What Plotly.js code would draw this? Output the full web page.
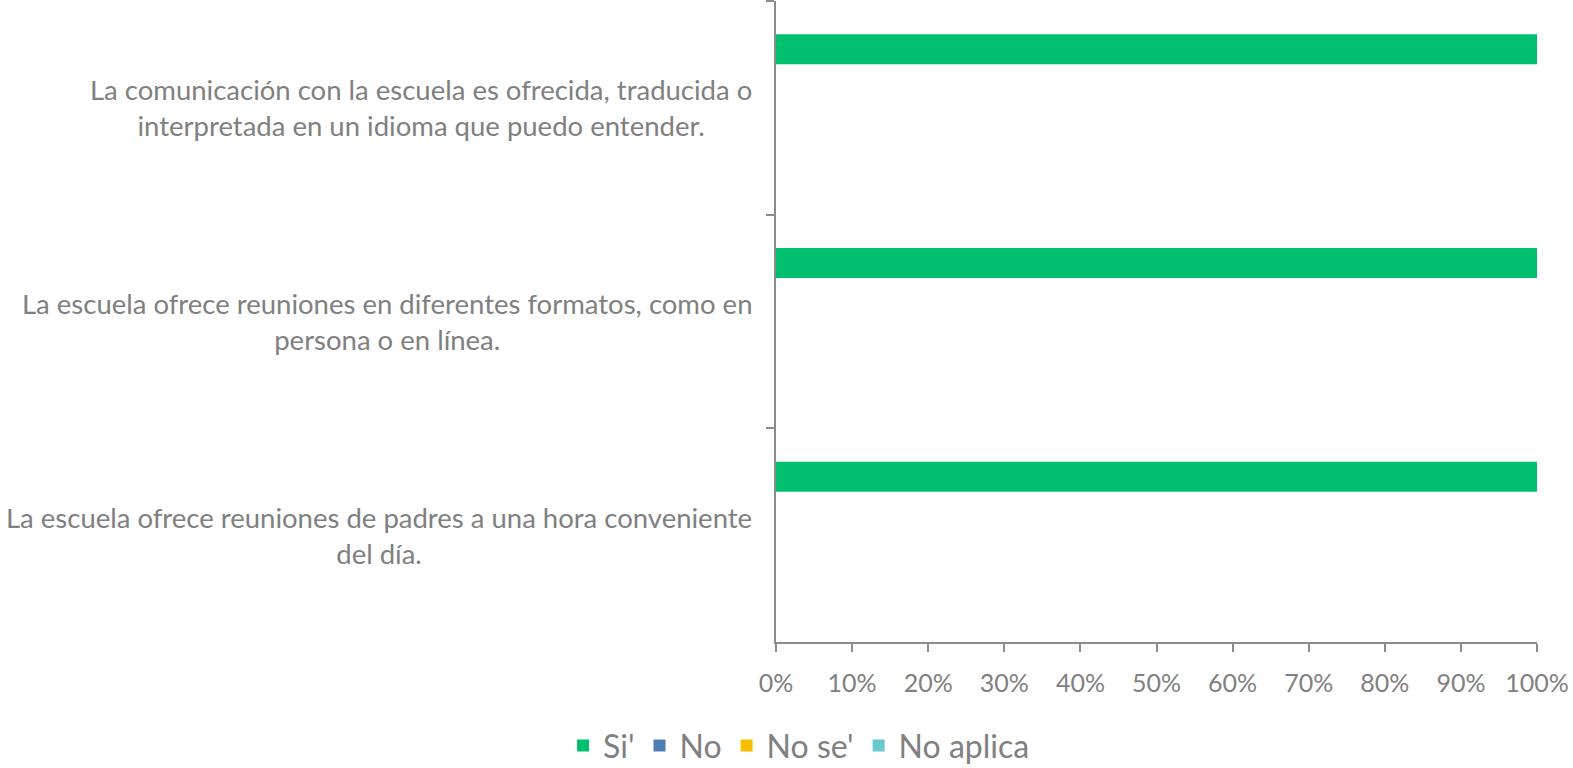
<!DOCTYPE html>
<html>
<head>
<meta charset="utf-8">
<script src="https://cdn.plot.ly/plotly-3.0.1.min.js"></script>
<style>html,body{margin:0;padding:0;background:#fff;}#chart{width:1573px;height:768px;}</style>
</head>
<body>
<div id="chart"></div>
<script>
const categories = [
  "La comunicación con la escuela es ofrecida, traducida o<br>interpretada en un idioma que puedo entender.",
  "La escuela ofrece reuniones en diferentes formatos, como en<br>persona o en línea.",
  "La escuela ofrece reuniones de padres a una hora conveniente<br>del día."
];
const seriesNames = ["Si'", "No", "No se'", "No aplica"];
const siValues = [1, 1, 1];
const noValues = [0, 0, 0];
const noseValues = [0, 0, 0];
const noaplicaValues = [0, 0, 0];
const xTickVals = [0, 0.1, 0.2, 0.3, 0.4, 0.5, 0.6, 0.7, 0.8, 0.9, 1];

const colors = ["#00BF6F", "#507CB6", "#F9BE00", "#6BC8CD"];
const allValues = [siValues, noValues, noseValues, noaplicaValues];
const barWidth = 0.1404;
const offsets = [-0.344, -0.2036, -0.0632, 0.0772];

const textColor = "#808080";
const fontFam = "Lato, 'Open Sans', sans-serif";

const traces = allValues.map((vals, i) => ({
  type: "bar",
  orientation: "h",
  name: seriesNames[i],
  x: vals,
  y: categories,
  width: barWidth,
  offset: offsets[i],
  marker: {color: colors[i]},
  hoverinfo: "x+name"
}));

const annotations = categories.map(c => ({
  text: c,
  xref: "paper", yref: "y",
  x: 0, y: c,
  xanchor: "right", yanchor: "middle",
  xshift: -22,
  align: "center",
  showarrow: false,
  font: {family: fontFam, size: 27.5, color: textColor}
}));

const layout = {
  width: 1573, height: 768,
  margin: {l: 776, r: 36, t: 1, b: 126},
  paper_bgcolor: "#fff", plot_bgcolor: "#fff",
  barmode: "group",
  showlegend: true,
  legend: {
    orientation: "h",
    xref: "container", yref: "container",
    x: 0.508, xanchor: "center",
    y: 0.029, yanchor: "middle",
    font: {family: fontFam, size: 32, color: textColor},
    itemclick: false
  },
  xaxis: {
    range: [0, 1],
    tickvals: xTickVals,
    tickformat: ".0%",
    showgrid: false, zeroline: false,
    showline: true, linecolor: "#8c8c8c", linewidth: 2,
    ticks: "outside", ticklen: 8, tickwidth: 2, tickcolor: "#8c8c8c",
    ticklabelstandoff: 10,
    tickfont: {family: fontFam, size: 25, color: textColor}
  },
  yaxis: {
    type: "category",
    range: [2.5, -0.5],
    showticklabels: false,
    showgrid: false, zeroline: false,
    showline: true, linecolor: "#8c8c8c", linewidth: 2,
    ticks: "outside", ticklen: 8, tickwidth: 2, tickcolor: "#8c8c8c",
    tickson: "boundaries"
  },
  annotations: annotations
};

Plotly.newPlot("chart", traces, layout, {displayModeBar: false, staticPlot: true});
</script>
</body>
</html>
